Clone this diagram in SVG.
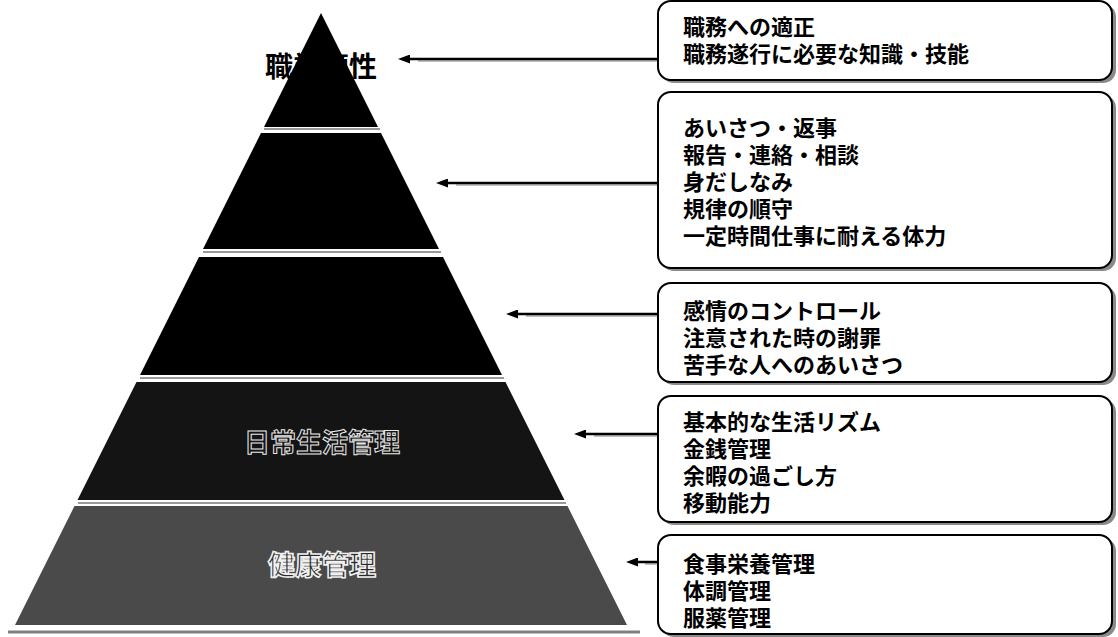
<svg xmlns="http://www.w3.org/2000/svg" width="1118" height="637" viewBox="0 0 1118 637">
<defs>
<style>
.box{fill:#fff;stroke:#000;stroke-width:2}
.shadow{fill:#8a8a8a}
.t{font-family:"Noto Sans CJK JP","Noto Sans",sans-serif;font-size:22px;font-weight:bold;fill:#000}
.arr{stroke:#000;stroke-width:2.5;fill:none;marker-end:url(#ah)}
.ashadow{stroke:#aaa;stroke-width:1.5;fill:none}
.lay{stroke:none}
.lsh{stroke:#999;stroke-width:2}
.ptxt{font-family:"Noto Sans CJK JP","Noto Sans",sans-serif;font-weight:bold;text-anchor:middle}
</style>
<marker id="ah" markerUnits="userSpaceOnUse" markerWidth="12" markerHeight="9" refX="1" refY="4.5" orient="auto">
<path d="M12,0 L0,4.5 L12,9 z" fill="#000" transform="rotate(180 6 4.5)"/>
</marker>
</defs>
<rect width="1118" height="637" fill="#fff"/>

<g id="pyramid">
<line x1="8" y1="632" x2="640" y2="632" stroke="#808080" stroke-width="3"/>
<g id="layer1">
<line class="lsh" x1="264" y1="129" x2="380" y2="129"/>
<polygon class="lay" points="321,13 378,127 264,127" fill="#000"/>
<text class="ptxt" x="321" y="77" font-size="28" fill="#000">職業適性</text>
</g>
<g id="layer2">
<line class="lsh" x1="203" y1="252" x2="441" y2="252"/>
<polygon class="lay" points="261,133 381,133 439,249 203,249" fill="#000"/>
</g>
<g id="layer3">
<line class="lsh" x1="140" y1="378" x2="504" y2="378"/>
<polygon class="lay" points="199,257 443,257 502,375 140,375" fill="#000"/>
</g>
<g id="layer4">
<line class="lsh" x1="78" y1="503" x2="566" y2="503"/>
<polygon class="lay" points="136.5,382 505.5,382 564.5,500 77.5,500" fill="#141414"/>
<text class="ptxt" x="322" y="452" font-size="26" fill="#141414" stroke="#e8e8e8" stroke-width="1">日常生活管理</text>
</g>
<g id="layer5">
<polygon class="lay" points="74.5,506 567.5,506 627,625 15,625" fill="#4a4a4a"/>
<text class="ptxt" x="322" y="575" font-size="27" fill="#2a2a2a" stroke="#f0f0f0" stroke-width="1.6">健康管理</text>
</g>
</g>

<g id="connectors">
<line class="ashadow" x1="418" y1="61" x2="658" y2="61"/>
<line class="arr" x1="658" y1="59" x2="409" y2="59"/>
<line class="ashadow" x1="456" y1="185" x2="658" y2="185"/>
<line class="arr" x1="658" y1="183" x2="447" y2="183"/>
<line class="ashadow" x1="526" y1="316" x2="658" y2="316"/>
<line class="arr" x1="658" y1="314" x2="517" y2="314"/>
<line class="ashadow" x1="594" y1="436" x2="658" y2="436"/>
<line class="arr" x1="658" y1="434" x2="585" y2="434"/>
<line class="ashadow" x1="645" y1="564" x2="658" y2="564"/>
<line class="arr" x1="658" y1="562" x2="637" y2="562"/>
</g>

<g id="box1">
<rect class="shadow" x="661" y="4" width="455" height="79" rx="13"/>
<rect class="box" x="658" y="1" width="454" height="79" rx="13"/>
<text class="t" x="683" y="35">職務への適正</text>
<text class="t" x="683" y="62">職務遂行に必要な知識・技能</text>
</g>
<g id="box2">
<rect class="shadow" x="661" y="95" width="455" height="176" rx="13"/>
<rect class="box" x="658" y="92" width="454" height="176" rx="13"/>
<text class="t" x="683" y="136">あいさつ・返事</text>
<text class="t" x="683" y="163">報告・連絡・相談</text>
<text class="t" x="683" y="190">身だしなみ</text>
<text class="t" x="683" y="217">規律の順守</text>
<text class="t" x="683" y="244">一定時間仕事に耐える体力</text>
</g>
<g id="box3">
<rect class="shadow" x="661" y="286" width="455" height="99" rx="13"/>
<rect class="box" x="658" y="283" width="454" height="99" rx="13"/>
<text class="t" x="683" y="319">感情のコントロール</text>
<text class="t" x="683" y="346">注意された時の謝罪</text>
<text class="t" x="683" y="373">苦手な人へのあいさつ</text>
</g>
<g id="box4">
<rect class="shadow" x="661" y="399" width="455" height="126" rx="13"/>
<rect class="box" x="658" y="396" width="454" height="126" rx="13"/>
<text class="t" x="683" y="430">基本的な生活リズム</text>
<text class="t" x="683" y="457">金銭管理</text>
<text class="t" x="683" y="484">余暇の過ごし方</text>
<text class="t" x="683" y="511">移動能力</text>
</g>
<g id="box5">
<rect class="shadow" x="661" y="538" width="455" height="99" rx="13"/>
<rect class="box" x="658" y="535" width="454" height="99" rx="13"/>
<text class="t" x="683" y="572">食事栄養管理</text>
<text class="t" x="683" y="599">体調管理</text>
<text class="t" x="683" y="626">服薬管理</text>
</g>
</svg>
